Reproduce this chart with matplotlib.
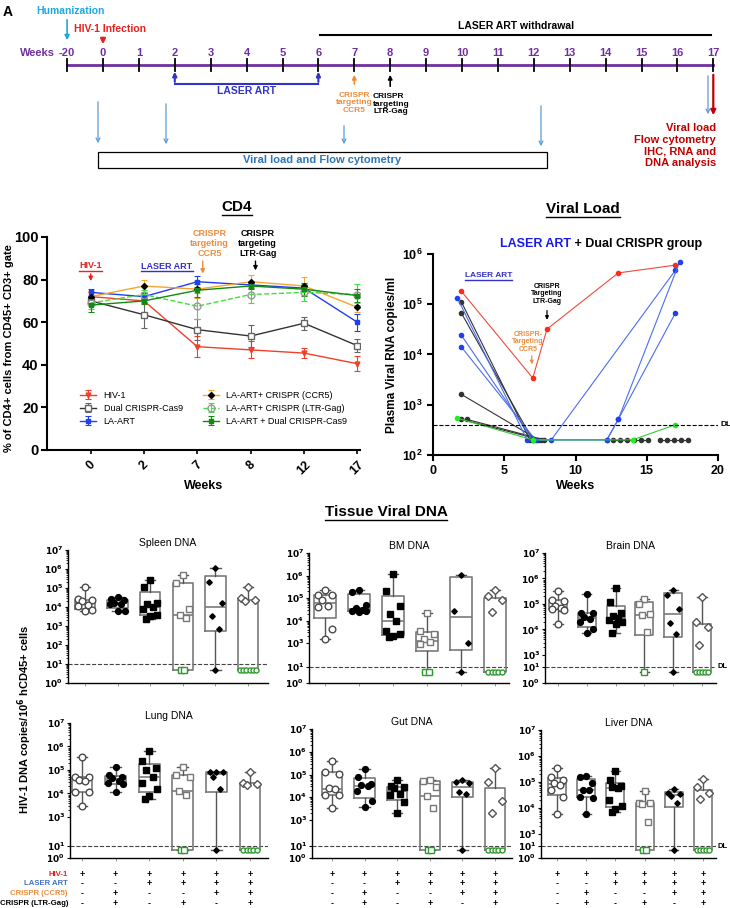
import numpy as np
import matplotlib
matplotlib.use("Agg")
import matplotlib.pyplot as plt
from matplotlib.lines import Line2D
from matplotlib.patches import Rectangle
from matplotlib.transforms import IdentityTransform

plt.rcParams['font.family'] = ['Liberation Sans', 'DejaVu Sans']
plt.rcParams['font.weight'] = 'bold'
plt.rcParams['axes.labelweight'] = 'bold'
plt.rcParams['mathtext.default'] = 'bf'

W, H = 730.0, 908.0

# ---------------- data ----------------
# timeline
tl_labels = ['-20', '0', '1', '2', '3', '4', '5', '6', '7', '8', '9',
             '10', '11', '12', '13', '14', '15', '16', '17']
tl_pos = [-1, 0, 1, 2, 3, 4, 5, 6, 7, 8, 9, 10, 11, 12, 13, 14, 15, 16, 17]

# CD4 (% of CD4+ cells), mean and error
cd4_weeks = ['0', '2', '7', '8', '12', '17']
cd4_hiv = [72, 70, 48.5, 47, 45.5, 40.5]
cd4_hiv_err = [2, 1, 5, 4, 2.5, 3.5]
cd4_dual = [70, 63.5, 56.5, 53.5, 59.5, 49]
cd4_dual_err = [1.5, 6, 5, 5, 3, 3]
cd4_laart = [74, 72, 79, 77.5, 76, 60]
cd4_laart_err = [1.5, 1.5, 2.5, 1.5, 1.5, 4]
cd4_ccr5 = [72, 77, 75.5, 79, 77, 67]
cd4_ccr5_err = [2.5, 3, 4, 3, 4, 2]
cd4_ltr = [69, 73, 67.5, 73, 74, 73]
cd4_ltr_err = [3, 2, 6, 4, 4, 5]
cd4_ladual = [68, 70, 75, 77, 75.5, 72.5]
cd4_ladual_err = [3, 1.5, 3, 1.5, 3, 3]

# viral load (copies/ml) per animal
vl_red_wk = [2, 7, 8, 13, 17]
vl_red = [1.8e5, 3.4e3, 3.2e4, 4.2e5, 6.0e5]
vl_blue_wk = [[1.7, 6.6, 8.3, 17.0],
              [2.0, 7.0, 12.2, 13.0, 17.3],
              [2.0, 7.2, 12.2, 13.0, 17.0]]
vl_blue = [[1.35e5, 200, 200, 4.7e5],
           [2.4e4, 200, 200, 510, 6.9e5],
           [1.4e4, 200, 200, 510, 6.6e4]]
vl_black_wk = [[2.0, 6.8], [2.0, 7.0], [2.0, 7.4], [2.0, 7.6], [2.4, 7.8],
               [12.6, 13.1, 13.6, 14.1, 14.6, 15.1],
               [15.9, 16.4, 16.9, 17.4, 17.9]]
vl_black = [[1.1e5, 200], [6.6e4, 200], [1.6e3, 200], [510, 200], [510, 200],
            [200, 200, 200, 200, 200, 200],
            [200, 200, 200, 200, 200]]
vl_green_wk = [1.7, 7.0, 14.0, 17.0]
vl_green = [540, 200, 200, 400]
vl_dl = 400

# tissue viral DNA (copies / 1e6 hCD45+ cells); 5 = below detection limit
spleen = [[1.1e5, 2.5e4, 2.3e4, 2e4, 1.3e4, 1.1e4, 7e3, 6e3],
          [3.2e4, 2.5e4, 2.2e4, 1.6e4, 1.5e4, 1.4e4, 6.5e3, 6e3],
          [2.6e5, 1.1e5, 1.7e4, 1.5e4, 1e4, 8e3, 4e3, 3.5e3, 2.3e3],
          [4.8e5, 1.9e5, 8e3, 4e3, 2.8e3, 5, 5],
          [1.1e6, 2.1e5, 1.6e4, 3.2e3, 700, 5],
          [1.1e5, 3e4, 2.3e4, 2e4, 5, 5, 5, 5, 5, 5]]
bm = [[2.3e5, 1.4e5, 1.3e5, 8e4, 4.5e4, 4e4, 4.2e3, 1.6e3],
      [2.2e5, 1.9e5, 4.8e4, 3.5e4, 3e4, 2.8e4, 2.8e4, 2.3e4],
      [1.2e6, 2.1e5, 4.5e4, 2e4, 1e4, 3.5e3, 2.5e3, 2e3, 1.9e3],
      [2.2e4, 3.5e3, 2.5e3, 1.5e3, 1.1e3, 900, 5, 5],
      [1.1e6, 2.8e4, 1e3, 5],
      [2.2e5, 1.2e5, 8e4, 2.5e4, 5, 5, 5, 5, 5]]
brain = [[3.3e5, 1.4e5, 1.3e5, 8e4, 7e4, 6.5e4, 6e4, 1.6e4],
         [2.5e5, 4.5e4, 4.2e4, 3e4, 2.5e4, 2e4, 1e4, 7e3],
         [4.3e5, 1.2e5, 4.5e4, 3.2e4, 2.8e4, 2.3e4, 2e4, 1.6e4, 7e3],
         [1.6e5, 1e5, 4e4, 3.5e4, 8e3, 5],
         [3.5e5, 2.3e5, 6.5e4, 1.7e4, 6.5e3, 5],
         [1.8e5, 2e4, 1.2e4, 2.5e3, 5, 5, 5, 5, 5]]
lung = [[3.7e5, 5.2e4, 5e4, 3.8e4, 3.5e4, 1.2e4, 1.1e4, 3e3],
        [1.4e5, 6e4, 5e4, 4.5e4, 3.5e4, 2.8e4, 2.5e4, 1.2e4],
        [6.5e5, 2.3e5, 1.2e5, 1e5, 5e4, 2.8e4, 1.5e4, 8e3, 6e3],
        [1.4e5, 6e4, 5e4, 1.3e4, 9e3, 5, 5],
        [8.5e4, 8.5e4, 8e4, 5e4, 1.5e4, 5],
        [8.5e4, 2.8e4, 2.5e4, 2.2e4, 5, 5, 5, 5, 5]]
gut = [[4e5, 1.3e5, 1.1e5, 2.5e4, 2.2e4, 1.3e4, 1.2e4, 3.3e3],
       [1.7e5, 8e4, 4e4, 3.5e4, 3e4, 1.8e4, 7e3, 3.6e3],
       [6e4, 3e4, 2.8e4, 2.5e4, 1.4e4, 1.2e4, 6e3, 2.1e3],
       [5.5e4, 5.2e4, 2.7e4, 1.1e4, 3.3e3, 5, 5],
       [5.8e4, 4.5e4, 4.2e4, 1.7e4, 1.4e4, 5],
       [2e5, 4.5e4, 7e3, 2e3, 5, 5, 5, 5, 5]]
liver = [[3.4e5, 1.5e5, 1.2e5, 9e4, 8e4, 5e4, 2.7e4, 6e3],
         [1.7e5, 1.5e5, 9e4, 5e4, 4.8e4, 2.7e4, 2.5e4, 6e3],
         [2.6e5, 1.2e5, 7e4, 6.5e4, 6e4, 2e4, 1.2e4, 9e3, 7e3],
         [4.5e4, 1.5e4, 1.5e4, 1.4e4, 3e3, 5, 5],
         [5.5e4, 3.8e4, 3.4e4, 2.8e4, 1.5e4, 5],
         [1.3e5, 6.5e4, 3.8e4, 2.3e4, 5, 5, 5, 5, 5]]
tissue_dl = 10

treat_rows = ['HIV-1', 'LASER ART', 'CRISPR (CCR5)', 'CRISPR (LTR-Gag)']
treat_signs = [['+', '+', '+', '+', '+', '+'],
               ['-', '-', '+', '+', '+', '+'],
               ['-', '+', '-', '-', '+', '+'],
               ['-', '+', '-', '+', '-', '+']]

# ---------------- colours ----------------
PURPLE = '#7030a0'
CYAN = '#1fa8e0'
RED = '#e8201e'
LABLUE = '#3232c8'
ORANGE = '#f08c3c'
ARROWBLUE = '#5b9bd5'
BOXBLUE = '#2e75b6'
DARKRED = '#c00000'
GREEN = '#2f9a2f'

fig = plt.figure(figsize=(W / 100, H / 100), dpi=100)
underline = []


def fx(px):
    return px / W


def fy(py):
    return 1 - py / H


# ---------------- A: timeline ----------------
ax0 = fig.add_axes([0, fy(172), 1, 172 / H])
ax0.set_xlim((0 - 103) / 35.9, (730 - 103) / 35.9)
ax0.set_ylim(172, 0)
ax0.axis('off')


def wk(px):
    return (px - 103) / 35.9


fig.text(0.004, 0.995, 'A', fontsize=10, va='top')
ax0.plot([tl_pos[0], tl_pos[-1]], [65, 65], color=PURPLE, lw=2, zorder=1)
for p, lab in zip(tl_pos, tl_labels):
    ax0.plot([p, p], [59, 71], color='black', lw=1.3, zorder=2)
    ax0.text(p, 53, lab, color=PURPLE, ha='center', va='center', fontsize=8)
ax0.text(wk(37), 53, 'Weeks', color=PURPLE, ha='center', va='center', fontsize=8)

ax0.text(wk(70), 11, 'Humanization', color=CYAN, ha='center', va='center', fontsize=7.5)
ax0.annotate('', xy=(-1, 43), xytext=(-1, 17),
             arrowprops=dict(arrowstyle='-|>', color=CYAN, lw=1.2, mutation_scale=7))
ax0.text(wk(110), 29, 'HIV-1 Infection', color=RED, ha='center', va='center', fontsize=7.5)
ax0.annotate('', xy=(0, 47), xytext=(0, 35),
             arrowprops=dict(arrowstyle='-|>', color=RED, lw=1.6, mutation_scale=7))

ax0.text(wk(516), 26, 'LASER ART withdrawal', color='black', ha='center', va='center', fontsize=7.5)
ax0.plot([wk(320), wk(711)], [35, 35], color='black', lw=1.5)

# LASER ART bracket
ax0.plot([2, 6], [84, 84], color=LABLUE, lw=1.5)
for p in (2, 6):
    ax0.annotate('', xy=(p, 69), xytext=(p, 84.7),
                 arrowprops=dict(arrowstyle='-|>', color=LABLUE, lw=1.5, mutation_scale=6))
ax0.text(4, 91, 'LASER ART', color=LABLUE, ha='center', va='center', fontsize=7.5)

ax0.annotate('', xy=(7, 72), xytext=(7, 87),
             arrowprops=dict(arrowstyle='-|>', color=ORANGE, lw=1.2, mutation_scale=6))
ax0.text(7, 103, 'CRISPR\ntargeting\nCCR5', color=ORANGE, ha='center', va='center',
         fontsize=6, linespacing=1.15)
ax0.annotate('', xy=(8, 72), xytext=(8, 89),
             arrowprops=dict(arrowstyle='-|>', color='black', lw=1.2, mutation_scale=6))
ax0.text(wk(373), 104, 'CRISPR\ntargeting\nLTR-Gag', color='black', ha='left', va='center',
         fontsize=6, linespacing=1.15)

for px, y0, y1 in [(98, 99, 146), (166, 101, 147), (344, 123, 147), (541, 103, 149), (708, 73, 117)]:
    ax0.annotate('', xy=(wk(px), y1), xytext=(wk(px), y0),
                 arrowprops=dict(arrowstyle='->', color=ARROWBLUE, lw=0.9, mutation_scale=7))
ax0.annotate('', xy=(17, 118), xytext=(17, 72),
             arrowprops=dict(arrowstyle='-|>', color=DARKRED, lw=1.6, mutation_scale=7))

ax0.add_patch(Rectangle((wk(98), 152), wk(547) - wk(98), 16, fill=False, ec='black', lw=0.9))
ax0.text(wk(322), 160, 'Viral load and Flow cytometry', color=BOXBLUE, ha='center',
         va='center', fontsize=8)
for yy, s in zip([128, 140, 151, 163], ['Viral load', 'Flow cytometry', 'IHC, RNA and', 'DNA analysis']):
    ax0.text(wk(716), yy, s, color=DARKRED, ha='right', va='center', fontsize=8)

# ---------------- CD4 ----------------
ax1 = fig.add_axes([fx(47), fy(450), (360 - 47) / W, (450 - 237) / H])
xi = np.arange(len(cd4_weeks))
ebk = dict(capsize=2.5, elinewidth=0.8, capthick=0.8, lw=1.0)
h1 = ax1.errorbar(xi, cd4_hiv, yerr=cd4_hiv_err, color='#f0402a', marker='v', ms=3.5,
                  label='HIV-1', **ebk)
h2 = ax1.errorbar(xi, cd4_dual, yerr=cd4_dual_err, color='#333333', ecolor='#666666',
                  marker='s', ms=5, mfc='white', mec='#666666', label='Dual CRISPR-Cas9', **ebk)
h3 = ax1.errorbar(xi, cd4_laart, yerr=cd4_laart_err, color='#1f3ff0', marker='s', ms=3.5,
                  label='LA-ART', **ebk)
h4 = ax1.errorbar(xi, cd4_ccr5, yerr=cd4_ccr5_err, color='#f7a531', marker='D', ms=3,
                  mfc='black', mec='black', label='LA-ART+ CRISPR (CCR5)', **ebk)
h5 = ax1.errorbar(xi, cd4_ltr, yerr=cd4_ltr_err, color='#3ee03e', ls='--', marker='o', ms=5,
                  mfc='none', mec='#999999', label='LA-ART+ CRISPR (LTR-Gag)', **ebk)
h6 = ax1.errorbar(xi, cd4_ladual, yerr=cd4_ladual_err, color='#128a12', marker='s', ms=3.5,
                  label='LA-ART + Dual CRISPR-Cas9', **ebk)
ax1.set_xlim(-0.82, 5.05)
ax1.set_ylim(0, 100)
ax1.set_yticks([0, 20, 40, 60, 80, 100])
ax1.set_xticks(xi)
ax1.set_xticklabels(cd4_weeks, rotation=45, fontsize=9)
ax1.tick_params(axis='y', labelsize=10.5, width=1.5, length=4, pad=2)
ax1.tick_params(axis='x', width=1.2, length=3)
for s in ('top', 'right'):
    ax1.spines[s].set_visible(False)
for s in ('left', 'bottom'):
    ax1.spines[s].set_linewidth(1.5)
ax1.set_xlabel('Weeks', fontsize=9, labelpad=2)
fig.text(fx(9), fy(348), '% of CD4+ cells from CD45+ CD3+ gate', rotation=90,
         ha='center', va='center', fontsize=8)
ax1.legend(handles=[h1, h2, h3, h4, h5, h6], ncol=2, loc='lower left',
           bbox_to_anchor=(0.08, 0.075), frameon=False, prop={'weight': 'normal', 'size': 6.5},
           handlelength=1.8, columnspacing=2.2, labelspacing=0.45)

t = ax1.text(0, 86.5, 'HIV-1', color=RED, ha='center', va='center', fontsize=6.5)
underline.append((t, RED))
ax1.annotate('', xy=(0, 78), xytext=(0, 84),
             arrowprops=dict(arrowstyle='-|>', color=RED, lw=1.0, mutation_scale=6))
t = ax1.text(1.43, 86.2, 'LASER ART', color=LABLUE, ha='center', va='center', fontsize=6.5)
underline.append((t, LABLUE))
ax1.text(2.23, 97, 'CRISPR\ntargeting\nCCR5', color=ORANGE, ha='center', va='center',
         fontsize=6.5, linespacing=1.15)
ax1.annotate('', xy=(2.1, 81.5), xytext=(2.1, 90),
             arrowprops=dict(arrowstyle='-|>', color=ORANGE, lw=1.0, mutation_scale=6))
ax1.text(3.13, 97, 'CRISPR\ntargeting\nLTR-Gag', color='black', ha='center', va='center',
         fontsize=6.5, linespacing=1.15)
ax1.annotate('', xy=(3.09, 83), xytext=(3.09, 90),
             arrowprops=dict(arrowstyle='-|>', color='black', lw=1.0, mutation_scale=6))
t = fig.text(fx(237), fy(207), 'CD4', ha='center', va='center', fontsize=11)
underline.append((t, 'black'))

# ---------------- Viral load ----------------
ax2 = fig.add_axes([fx(433), fy(455), (718 - 433) / W, (455 - 254) / H])
ax2.set_yscale('log')
ax2.set_ylim(1e2, 1e6)
ax2.set_xlim(0, 20)
lk = dict(lw=0.8, marker='o', ms=3)
for wks, vals in zip(vl_black_wk, vl_black):
    ax2.plot(wks, vals, color='#333333', **lk)
for wks, vals in zip(vl_blue_wk, vl_blue):
    ax2.plot(wks, vals, color='#4a6ef0', mfc='#1f3ff0', mec='#1f3ff0', **lk)
ax2.plot(vl_green_wk, vl_green, color='#33cc33', mfc='#22ee22', mec='#22ee22', **lk)
ax2.plot(vl_red_wk, vl_red, color='#f04a3a', mfc='#ff2a1a', mec='#ff2a1a', **lk)
ax2.axhline(vl_dl, color='black', ls='--', lw=0.8)
ax2.text(1.01, vl_dl, 'DL', transform=ax2.get_yaxis_transform(), fontsize=6, va='center')
ax2.set_xticks([0, 5, 10, 15, 20])
ax2.yaxis.set_minor_locator(matplotlib.ticker.NullLocator())
ax2.tick_params(labelsize=9, width=1.5, length=4)
for s in ('top', 'right'):
    ax2.spines[s].set_visible(False)
for s in ('left', 'bottom'):
    ax2.spines[s].set_linewidth(1.5)
ax2.set_xlabel('Weeks', fontsize=9, labelpad=2)
ax2.set_ylabel('Plasma Viral RNA copies/ml', fontsize=8.5, labelpad=3)
t = ax2.text(3.9, 3.7e5, 'LASER ART', color=LABLUE, ha='center', va='center', fontsize=6)
underline.append((t, LABLUE))
ax2.text(8.0, 1.6e5, 'CRISPR\nTargeting\nLTR-Gag', color='black', ha='center', va='center',
         fontsize=5, linespacing=1.1)
ax2.annotate('', xy=(8.0, 4.3e4), xytext=(8.0, 8.5e4),
             arrowprops=dict(arrowstyle='-|>', color='black', lw=0.9, mutation_scale=5))
ax2.text(6.67, 1.8e4, 'CRISPR-\nTargeting\nCCR5', color=ORANGE, ha='center', va='center',
         fontsize=5, linespacing=1.1)
ax2.annotate('', xy=(6.93, 5.6e3), xytext=(6.93, 1.07e4),
             arrowprops=dict(arrowstyle='-|>', color=ORANGE, lw=0.9, mutation_scale=5))
t = fig.text(fx(583), fy(209), 'Viral Load', ha='center', va='center', fontsize=11)
underline.append((t, 'black'))
t1 = fig.text(fx(500), fy(244), 'LASER ART', color='#1a1aee', ha='left', va='center', fontsize=9)
ax2.annotate(' + Dual CRISPR group', xy=(1, 0), xycoords=t1, va='bottom', ha='left',
             fontsize=9, color='black', annotation_clip=False)

# ---------------- Tissue viral DNA ----------------
grp_marker = ['o', 'o', 's', 's', 'D', 'D']
grp_face = ['white', 'black', 'black', 'white', 'black', 'white']
grp_edge = ['#4a4a4a', 'black', 'black', '#777777', 'black', '#555555']
grp_ms = [4.8, 4.2, 4.2, 4.8, 2.8, 4.0]
bdl_marker = ['o', 'o', 's', 's', 'D', 'o']
bdl_face = ['white', 'black', 'black', 'white', 'black', 'white']
bdl_edge = ['#4a4a4a', 'black', 'black', GREEN, 'black', GREEN]
bdl_ms = [4.5, 4.0, 4.0, 4.8, 2.8, 3.6]
jit = [0.0, -0.2, 0.2, -0.1, 0.1, -0.22, 0.22, 0.0, -0.12, 0.12]


def make_scale(a, b):
    def fwd(v):
        L = np.log10(np.clip(np.asarray(v, float), 1e-3, None))
        return np.where(L <= 1, L * a, np.where(L <= 3, a + (L - 1) * b, a + 2 * b + (L - 3)))

    def inv(p):
        p = np.asarray(p, float)
        L = np.where(p <= a, p / a, np.where(p <= a + 2 * b, 1 + (p - a) / b, 3 + (p - a - 2 * b)))
        return 10.0 ** L
    return fwd, inv


def box_stats(vals):
    v = np.sort(np.asarray(vals, float))
    q1, med, q3 = np.percentile(v, [25, 50, 75], method='weibull')
    return dict(med=med, q1=q1, q3=q3, whislo=v.min(), whishi=v.max(), fliers=[])


def tissue_panel(data, title, box, c_first, c_last, ab, show_102=False, dl=False, signs=False):
    l, r, tp, bt = box
    ax = fig.add_axes([fx(l), fy(bt), (r - l) / W, (bt - tp) / H])
    sp = (c_last - c_first) / 5.0
    ax.set_xlim(1 - (c_first - l) / sp, 6 + (r - c_last) / sp)
    ax.set_yscale('function', functions=make_scale(*ab))
    ax.set_ylim(1, 1e7)
    pos = np.arange(1, 7)
    ax.bxp([box_stats(d) for d in data], positions=pos, widths=0.62, showfliers=False,
           capwidths=0.32,
           boxprops=dict(color='#7a7a7a', lw=1.2),
           whiskerprops=dict(color='#555555', lw=1.0),
           capprops=dict(color='#555555', lw=1.0),
           medianprops=dict(color='#7a7a7a', lw=1.2))
    for g, vals in enumerate(data):
        above = [v for v in vals if v >= tissue_dl]
        below = [v for v in vals if v < tissue_dl]
        for k, v in enumerate(above):
            ax.plot(pos[g] + jit[k % len(jit)], v, marker=grp_marker[g], ms=grp_ms[g],
                    mfc=grp_face[g], mec=grp_edge[g], mew=1.0, ls='none', zorder=4)
        n = len(below)
        for k, v in enumerate(below):
            ax.plot(pos[g] + (k - (n - 1) / 2.0) * 0.1, v, marker=bdl_marker[g], ms=bdl_ms[g],
                    mfc=bdl_face[g], mec=bdl_edge[g], mew=1.0, ls='none', zorder=4)
    ax.axhline(tissue_dl, color='#444444', ls='--', lw=0.8, zorder=1)
    yt = [1, 10, 1e2, 1e3, 1e4, 1e5, 1e6, 1e7] if show_102 else [1, 10, 1e3, 1e4, 1e5, 1e6, 1e7]
    ax.set_yticks(yt)
    ax.set_yticklabels(['$10^{%d}$' % int(round(np.log10(y))) for y in yt])
    lo = 0 if show_102 else 3
    ax.set_yticks([k * 10.0 ** d for d in range(lo, 7) for k in range(2, 10)], minor=True)
    ax.set_xticks(pos)
    ax.set_xticklabels([])
    ax.tick_params(axis='y', labelsize=6.5, length=2.5, width=0.8, pad=1)
    ax.tick_params(axis='y', which='minor', length=1.5, width=0.6)
    ax.tick_params(axis='x', length=2, width=0.6, color='#888888')
    for s in ('top', 'right'):
        ax.spines[s].set_visible(False)
    ax.spines['left'].set_linewidth(1.0)
    ax.spines['bottom'].set_linewidth(1.0)
    ax.set_title(title, fontsize=7.5, pad=3)
    if dl:
        ax.text(1.01, tissue_dl, 'DL', transform=ax.get_yaxis_transform(), fontsize=5.5, va='center')
    if signs:
        for ri, row in enumerate(treat_signs):
            for j, s in enumerate(row):
                ax.annotate(s, xy=(pos[j], 0), xycoords=('data', 'axes fraction'),
                            xytext=(0, -16 - 9.8 * ri), textcoords='offset pixels',
                            ha='center', va='center', fontsize=6.5, annotation_clip=False)
    return ax


tissue_panel(spleen, 'Spleen DNA', (68, 268, 550, 683), 85, 248, (1.0, 1.0), show_102=True)
tissue_panel(bm, 'BM DNA', (309, 509, 553, 683), 325, 495, (0.73, 0.52))
tissue_panel(brain, 'Brain DNA', (545, 716, 553, 683), 558, 702, (0.63, 0.24), dl=True)
tissue_panel(lung, 'Lung DNA', (70, 268, 723, 858), 82, 250, (0.51, 0.62), signs=True)
tissue_panel(gut, 'Gut DNA', (312, 512, 729, 858), 332, 495, (0.53, 0.57), signs=True)
tissue_panel(liver, 'Liver DNA', (541, 716, 730, 858), 557, 703, (0.46, 0.23), dl=True, signs=True)

t = fig.text(fx(386), fy(512), 'Tissue Viral DNA', ha='center', va='center', fontsize=11)
underline.append((t, 'black'))
fig.text(fx(25), fy(719), 'HIV-1 DNA copies/10$^{6}$ hCD45+ cells', rotation=90,
         ha='center', va='center', fontsize=8)
row_cols = [RED, '#4472c4', ORANGE, 'black']
for ri, (lab, c) in enumerate(zip(treat_rows, row_cols)):
    fig.text(fx(68), fy(874 + 9.8 * ri), lab, color=c, ha='right', va='center', fontsize=5.6)

# underline selected texts
fig.canvas.draw()
rend = fig.canvas.get_renderer()
for t, c in underline:
    bb = t.get_window_extent(rend)
    fig.add_artist(Line2D([bb.x0, bb.x1], [bb.y0 - 0.5, bb.y0 - 0.5], color=c, lw=1.0,
                          transform=IdentityTransform()))

fig.savefig('out.png', dpi=100)
